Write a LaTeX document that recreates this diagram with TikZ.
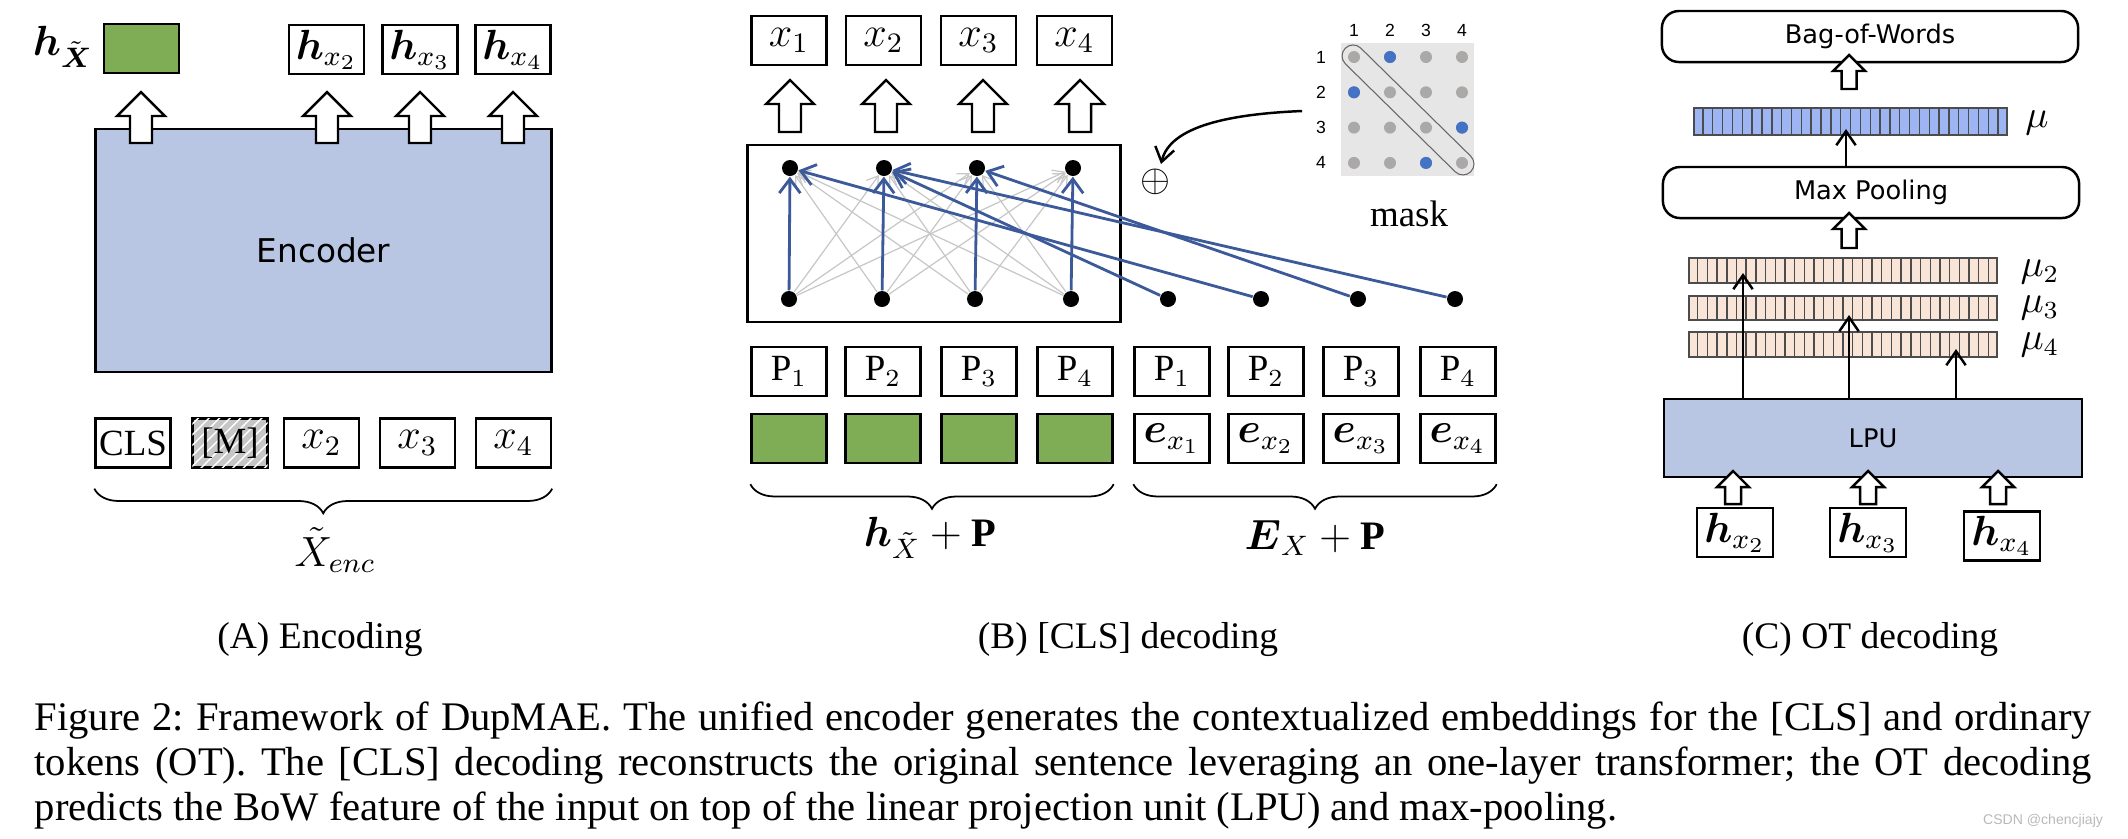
\documentclass[tikz,border=0pt]{standalone}
\usepackage{fontspec}
\setmainfont{Liberation Serif}
\newfontfamily\comicfont{DejaVu Sans}
\newfontfamily\numfont{Liberation Sans}
\usepackage{amsmath,amssymb,amsbsy}
\usetikzlibrary{arrows.meta, positioning, patterns, calc, decorations.pathreplacing}
\frenchspacing

\definecolor{encblue}{HTML}{B8C6E3}
\definecolor{hgreen}{HTML}{7FAD55}
\definecolor{linkblue}{HTML}{3C5A9A}
\definecolor{mublue}{HTML}{9DB5F2}
\definecolor{peach}{HTML}{F8E5D8}
\definecolor{maskbg}{HTML}{E7E6E6}
\definecolor{dotgray}{HTML}{ABA9A8}
\definecolor{dotblue}{HTML}{4472C4}

% hollow up arrow: x, top y, bottom y, half shaft, half head
\newcommand{\blockup}[5]{%
  \draw[line width=0.7pt, fill=white] (#1-#4,#3) -- (#1-#4,#2+#5) -- (#1-#5,#2+#5) -- (#1,#2)
    -- (#1+#5,#2+#5) -- (#1+#4,#2+#5) -- (#1+#4,#3) -- cycle;}

\begin{document}
\begin{tikzpicture}[x=0.01cm, y=-0.01cm,
    every node/.style={inner sep=0pt},
    tok/.style={draw, line width=0.65pt, fill=white, minimum width=0.75cm, minimum height=0.49cm, font=\fontsize{10.5}{12}\selectfont},
    greentok/.style={tok, fill=hgreen},
    mathtok/.style={tok, font=\fontsize{12}{14}\selectfont},
    encbox/.style={draw, line width=0.8pt, fill=encblue},
    roundbox/.style={draw, line width=0.7pt, rounded corners=0.17cm, minimum width=4.16cm, minimum height=0.51cm, font=\comicfont\fontsize{7.3}{9}\selectfont},
    dot/.style={circle, fill=black, minimum size=0.16cm},
    mdot/.style={circle, fill=dotgray, minimum size=0.12cm},
    full/.style={black!22, line width=0.35pt, -{Straight Barb[length=3pt,width=4pt]}},
    attn/.style={linkblue, line width=0.8pt, -{Straight Barb[length=4pt,width=6pt]}},
    thinarr/.style={line width=0.7pt, -{Straight Barb[length=4pt,width=5.5pt]}},
    brc/.style={decorate, decoration={brace, mirror, amplitude=7pt}, line width=0.5pt},
    bar/.style={draw=black!70, line width=0.5pt},
    barline/.style={black!70, line width=0.4pt},
    capt/.style={font=\fontsize{10.67}{12.8}\selectfont}
]
\useasboundingbox (0,0) rectangle (2128,838);

% (A) ENCODING
\node[font=\fontsize{12}{14}\selectfont] (hcls) at (63,47) {$\boldsymbol{h}_{\tilde{\boldsymbol{X}}}$};
\node[greentok] (gA) at (141.5,48.5) {};
\foreach \n/\x in {2/326.5, 3/420, 4/513}
    \node[mathtok] (hA\n) at (\x,49.5) {$\boldsymbol{h}_{x_\n}$};

\node[encbox, minimum width=4.55cm, minimum height=2.43cm, font=\comicfont\fontsize{9.3}{11}\selectfont] (enc) at (323.5,250.5) {Encoder};
\foreach \x in {141,327,420,513}
    {\blockup{\x}{92}{143}{11}{24}}

% input tokens
\node[tok] (cls) at (133,443) {CLS};
\node[tok, fill=gray!45, postaction={pattern=north east lines, pattern color=white}] (msk) at (230,443) {[M]};
\foreach \n/\x in {2/321.5, 3/417.5, 4/513.5}
    \node[mathtok] (xA\n) at (\x,443) {$x_\n$};
\draw[brc] ([yshift=-0.2cm]cls.south west) -- ([yshift=-0.2cm]xA4.south east);
\node[font=\fontsize{12}{14}\selectfont] (xenc) at (335,550) {$\tilde{X}_{enc}$};

% (B) [CLS] DECODING
\foreach \n/\x in {1/789, 2/883.5, 3/978.5, 4/1074.5}
    \node[mathtok] (xB\n) at (\x,40.5) {$x_\n$};
\foreach \x in {790,886,983,1080}
    {\blockup{\x}{80}{132}{11}{24}}

\node[draw, line width=0.8pt, minimum width=3.72cm, minimum height=1.77cm] (trans) at (934,233.5) {};
\foreach \n/\x in {1/790, 2/884, 3/977, 4/1073}
    \node[dot] (t\n) at (\x,168) {};
\foreach \n/\x in {1/789, 2/882, 3/975, 4/1071, 5/1168, 6/1261, 7/1358, 8/1455}
    \node[dot] (b\n) at (\x,299) {};

% all-to-all links (grey), then kept links (blue)
\foreach \i in {1,...,4}
    \foreach \j in {1,...,4}
        \draw[full] (b\i) -- (t\j);
\foreach \i/\j in {1/1, 2/2, 3/3, 4/4, 5/2, 6/1, 7/3, 8/2}
    \draw[attn] (b\i) -- (t\j);

% position and token rows
\foreach \n/\x in {1/789, 2/883, 3/979, 4/1075} {
    \node[tok] (pL\n) at (\x,371.5) {$\mathrm{P}_\n$};
    \node[greentok] (gL\n) at (\x,438.5) {};
}
\foreach \n/\x in {1/1172, 2/1266, 3/1361, 4/1458} {
    \node[tok] (pR\n) at (\x,371.5) {$\mathrm{P}_\n$};
    \node[mathtok] (eR\n) at (\x,438.5) {$\boldsymbol{e}_{x_\n}$};
}
\draw[brc] ([yshift=-0.2cm]gL1.south west) -- ([yshift=-0.2cm]gL4.south east);
\draw[brc] ([yshift=-0.2cm]eR1.south west) -- ([yshift=-0.2cm]eR4.south east);
\node[font=\fontsize{11.5}{13}\selectfont] (lblL) at (930,538) {$\boldsymbol{h}_{\tilde{X}} + \mathbf{P}$};
\node[font=\fontsize{11.5}{13}\selectfont] (lblR) at (1315,538) {$\boldsymbol{E}_X + \mathbf{P}$};

% mask
\node[fill=maskbg, minimum size=1.33cm] (mbg) at (1407.5,109.5) {};
\foreach \r in {1,...,4}
    \foreach \c in {1,...,4}
        \node[mdot] (m\r\c) at ({1354+(\c-1)*36}, {57+(\r-1)*35.3}) {};
\foreach \r/\c in {1/2, 2/1, 3/4, 4/3}
    \node[mdot, fill=dotblue] at (m\r\c) {};
\foreach \c in {1,...,4}
    \node[font=\numfont\fontsize{5}{6}\selectfont] (mc\c) at ({1354+(\c-1)*36}, 30) {\c};
\foreach \r in {1,...,4}
    \node[font=\numfont\fontsize{5}{6}\selectfont] (mr\r) at (1321, {57+(\r-1)*35.3}) {\r};
\node[draw=black!60, line width=0.3pt, rounded corners=0.11cm, minimum width=1.76cm, minimum height=0.22cm, rotate=-44.5] (diag) at ($(m11)!0.5!(m44)$) {};
\node[font=\fontsize{10.5}{12}\selectfont] (mlabel) at (1409,214) {mask};

\node[font=\fontsize{11}{12}\selectfont] (oplus) at (1155,182) {$\oplus$};
\coordinate (mstart) at (1302,111);
\coordinate (mend) at (1161,164);
\draw[thinarr] (mstart) .. controls (1230,114) and (1170,126) .. (mend);

% (C) OT DECODING
\node[roundbox] (bow) at (1870,36.5) {Bag-of-Words};
\blockup{1849}{55}{89}{7.5}{16}
\node[bar, fill=mublue, minimum width=3.13cm, minimum height=0.27cm] (mu) at (1850.5,121.5) {};
\node[roundbox] (pool) at (1871,192.5) {Max Pooling};
\coordinate (mutip) at (1846,129);
\draw[thinarr] (pool.north -| mutip) -- (mutip);
\blockup{1849}{213}{248}{7.5}{16}

\foreach \n/\y in {2/270.5, 3/308, 4/344.5}
    \node[bar, fill=peach, minimum width=3.08cm, minimum height=0.245cm] (mu\n) at (1843,\y) {};
\foreach \b in {mu, mu2, mu3, mu4}
    \foreach \k in {1,...,31}
        \draw[barline] ($(\b.north west)!\k/32!(\b.north east)$) -- ($(\b.south west)!\k/32!(\b.south east)$);

\node[font=\fontsize{10.5}{12}\selectfont] (lmu) at (2037,123) {$\mu$};
\foreach \n/\y in {2/272, 3/308, 4/345}
    \node[font=\fontsize{10.5}{12}\selectfont] (lmu\n) at (2040,\y) {$\mu_\n$};

\node[encbox, line width=0.7pt, minimum width=4.18cm, minimum height=0.78cm, font=\comicfont\fontsize{7.3}{9}\selectfont] (lpu) at (1873,438) {LPU};
\foreach \n/\x/\y in {2/1743/273, 3/1849/315, 4/1956/349} {
    \coordinate (up\n) at (\x,\y);
    \draw[thinarr] (lpu.north -| up\n) -- (up\n);
}
\foreach \x in {1733,1868,1998}
    {\blockup{\x}{471}{504}{8}{16}}
\node[mathtok, minimum width=0.76cm] (hC2) at (1735,532.5) {$\boldsymbol{h}_{x_2}$};
\node[mathtok, minimum width=0.76cm] (hC3) at (1868,532.5) {$\boldsymbol{h}_{x_3}$};
\node[mathtok, minimum width=0.76cm] (hC4) at (2002,536) {$\boldsymbol{h}_{x_4}$};

% captions
\node[capt] (capA) at (320,640) {(A) Encoding};
\node[capt] (capB) at (1128,640) {(B) [CLS] decoding};
\node[capt] (capC) at (1870,640) {(C) OT decoding};
\node[font=\fontsize{11.55}{12.8}\selectfont, anchor=north west, text width=20.56cm, align=justify] (fig) at (34,701) {Figure 2: Framework of DupMAE. The unified encoder generates the contextualized embeddings for the [CLS] and ordinary\linebreak tokens (OT). The [CLS] decoding reconstructs the original sentence leveraging an one-layer transformer; the OT decoding\linebreak predicts the BoW feature of the input on top of the linear projection unit (LPU) and max-pooling.};
\node[font=\numfont\fontsize{4}{5}\selectfont, text=gray!55] (wm) at (2043,821) {CSDN @chencjiajy};

\end{tikzpicture}
\end{document}
